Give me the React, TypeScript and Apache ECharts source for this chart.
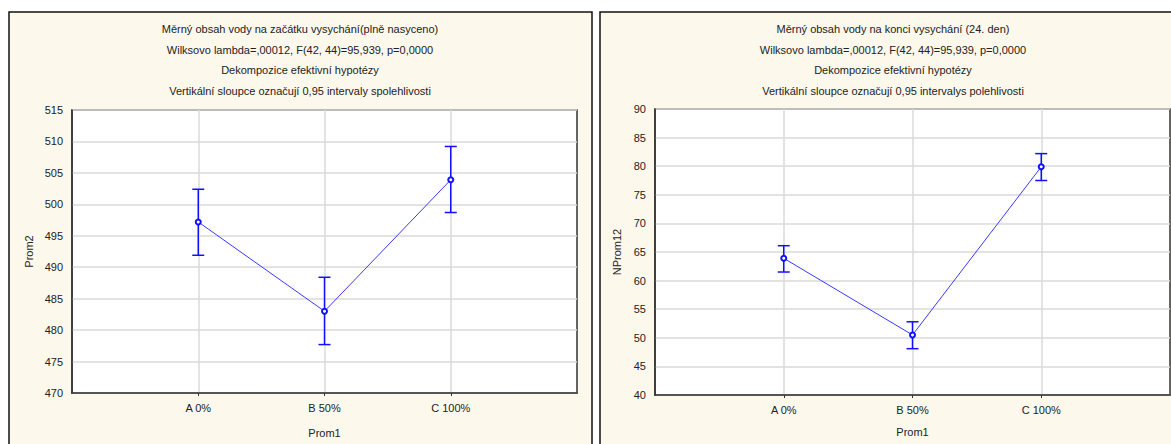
import React, { useEffect, useRef } from "react";
import * as echarts from "echarts";

const categories = ["A 0%", "B 50%", "C 100%"];
const axisCategories = ["", ...categories, ""];

const leftMeans = [497.2, 483.0, 503.9];
const leftLow = [491.9, 477.7, 498.7];
const leftHigh = [502.4, 488.4, 509.2];

const rightMeans = [63.9, 50.5, 79.9];
const rightLow = [61.5, 48.1, 77.5];
const rightHigh = [66.1, 52.8, 82.2];

const leftTitle = [
  "Měrný obsah vody na začátku vysychání(plně nasyceno)",
  "Wilksovo lambda=,00012, F(42, 44)=95,939, p=0,0000",
  "Dekompozice efektivní hypotézy",
  "Vertikální sloupce označují 0,95 intervaly spolehlivosti",
];
const rightTitle = [
  "Měrný obsah vody na konci vysychání (24. den)",
  "Wilksovo lambda=,00012, F(42, 44)=95,939, p=0,0000",
  "Dekompozice efektivní hypotézy",
  "Vertikální sloupce označují 0,95 intervalys polehlivosti",
];

const xName = "Prom1";
const leftYName = "Prom2";
const rightYName = "NProm12";

const FONT = "'Liberation Sans', Arial, sans-serif";
const BLUE = "#1010ff";

export default function App() {
  const ref = useRef<HTMLDivElement>(null);
  useEffect(() => {
    document.body.style.margin = "0";
    const chart = echarts.init(ref.current!, null, { renderer: "svg" });

    const titleTexts = (lines: string[], cx: number) =>
      lines.map((t, i) => ({
        type: "text",
        x: cx,
        y: 29 + i * 20.5,
        z: 10,
        style: {
          text: t,
          textAlign: "center",
          textVerticalAlign: "middle",
          fontSize: 11,
          fontFamily: FONT,
          fill: "#222",
        },
      }));

    const xAxis = (gridIndex: number, nameGap: number) => ({
      type: "category",
      gridIndex,
      data: axisCategories,
      boundaryGap: false,
      name: xName,
      nameLocation: "middle",
      nameGap,
      nameTextStyle: { fontSize: 11, fontFamily: FONT, color: "#222" },
      axisLine: { show: true, lineStyle: { color: "#333", width: 1.5 } },
      axisTick: {
        show: true,
        length: 3,
        interval: (idx: number) => idx > 0 && idx < axisCategories.length - 1,
        lineStyle: { color: "#333" },
      },
      axisLabel: {
        fontSize: 11,
        fontFamily: FONT,
        color: "#222",
        margin: 9,
        interval: 0,
      },
      splitLine: {
        show: true,
        interval: (idx: number) => idx > 0 && idx < axisCategories.length - 1,
        lineStyle: { color: "#dadada", width: 1.5 },
      },
    });

    const yAxis = (gridIndex: number, min: number, max: number, name: string, gap: number) => ({
      type: "value",
      gridIndex,
      min,
      max,
      interval: 5,
      name,
      nameLocation: "middle",
      nameGap: gap,
      nameTextStyle: { fontSize: 11, fontFamily: FONT, color: "#222" },
      axisLine: { show: true, lineStyle: { color: "#333", width: 1.5 } },
      axisTick: { show: false },
      axisLabel: { fontSize: 11, fontFamily: FONT, color: "#222", margin: 9 },
      splitLine: { show: true, lineStyle: { color: "#dadada", width: 1.5 } },
    });

    const errorSeries = (idx: number, low: number[], high: number[]) => ({
      type: "custom",
      xAxisIndex: idx,
      yAxisIndex: idx,
      z: 3,
      encode: { x: 0, y: [1, 2] },
      data: categories.map((c, i) => [c, low[i], high[i]]),
      renderItem: (params: any, api: any) => {
        const x = api.value(0);
        const lo = api.coord([x, api.value(1)]);
        const hi = api.coord([x, api.value(2)]);
        const hw = 6;
        const style = { stroke: BLUE, lineWidth: 1.5 };
        return {
          type: "group",
          children: [
            { type: "line", shape: { x1: lo[0], y1: lo[1], x2: hi[0], y2: hi[1] }, style },
            { type: "line", shape: { x1: hi[0] - hw, y1: hi[1], x2: hi[0] + hw, y2: hi[1] }, style },
            { type: "line", shape: { x1: lo[0] - hw, y1: lo[1], x2: lo[0] + hw, y2: lo[1] }, style },
          ],
        };
      },
    });

    const lineSeries = (idx: number, means: number[]) => ({
      type: "line",
      xAxisIndex: idx,
      yAxisIndex: idx,
      z: 4,
      data: categories.map((c, i) => [c, means[i]]),
      symbol: "emptyCircle",
      symbolSize: 5,
      lineStyle: { color: "#3a3aff", width: 1 },
      itemStyle: { color: BLUE, borderColor: BLUE, borderWidth: 1 },
    });

    const gridCommon = {
      show: true,
      backgroundColor: "#fff",
      borderColor: "#333",
      borderWidth: 1.5,
      containLabel: false,
      outerBoundsMode: "none",
    };

    chart.setOption({
      animation: false,
      graphic: [
        {
          type: "rect",
          z: -10,
          shape: { x: 9, y: 12, width: 583, height: 450 },
          style: { fill: "#fdf8ec", stroke: "#111", lineWidth: 1.5 },
        },
        {
          type: "rect",
          z: -10,
          shape: { x: 600, y: 12, width: 590, height: 450 },
          style: { fill: "#fdf8ec", stroke: "#111", lineWidth: 1.5 },
        },
        ...titleTexts(leftTitle, 300),
        ...titleTexts(rightTitle, 893),
      ],
      grid: [
        { ...gridCommon, left: 72, top: 110, width: 505, height: 283 },
        { ...gridCommon, left: 655, top: 109, width: 515, height: 286 },
      ],
      xAxis: [xAxis(0, 34), xAxis(1, 31)],
      yAxis: [
        yAxis(0, 470, 515, leftYName, 38),
        yAxis(1, 40, 90, rightYName, 33),
      ],
      series: [
        errorSeries(0, leftLow, leftHigh),
        lineSeries(0, leftMeans),
        errorSeries(1, rightLow, rightHigh),
        lineSeries(1, rightMeans),
      ],
    });
    return () => chart.dispose();
  }, []);
  return <div ref={ref} style={{ width: 1171, height: 444 }} />;
}
